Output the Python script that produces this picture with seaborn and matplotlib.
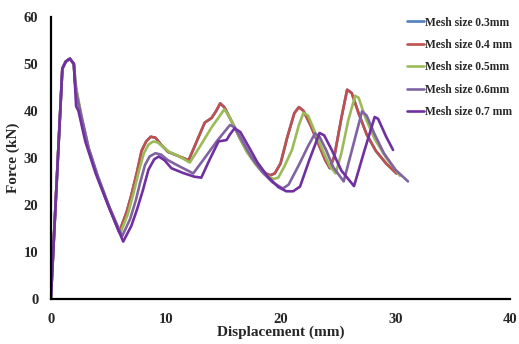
import matplotlib
matplotlib.use("Agg")
import matplotlib.pyplot as plt
import seaborn as sns
import pandas as pd

labels = ["Mesh size 0.3mm", "Mesh size 0.4 mm", "Mesh size 0.5mm",
          "Mesh size 0.6mm", "Mesh size 0.7 mm"]
colors = ["#4F81BD", "#C0504D", "#9BBB59", "#8064A2", "#7030A0"]

x_04 = [0, 1.0, 1.3, 1.65, 2.0, 2.1, 2.6, 3.2, 4.0, 5.0, 5.95, 6.6, 7.0, 7.5, 7.9, 8.3, 8.7,
        9.1, 9.6, 10.2, 11.0, 12.0, 12.7, 13.4, 14.0, 14.4, 14.75, 15.1, 15.8, 16.5, 17.2,
        18.0, 18.7, 19.1, 19.5, 20.0, 20.6, 21.2, 21.6, 22.0, 22.6, 23.3, 23.9, 24.3, 24.7,
        25.3, 25.8, 26.2, 26.8, 27.5, 28.3, 29.2, 30.1]
y_04 = [0, 49, 50.5, 51.1, 50, 46, 39, 32.5, 26.5, 20, 14.2, 18.5, 22, 27, 31.5, 33.5, 34.5,
        34.3, 32.8, 31.3, 30.5, 29.5, 33.5, 37.5, 38.5, 40, 41.6, 40.8, 37.5, 34, 31,
        28.5, 26.7, 26.3, 26.7, 28.8, 34.5, 39.5, 40.8, 40, 37, 33, 29.5, 27.8, 30.5,
        38.5, 44.5, 43.8, 39.5, 35, 31.5, 28.8, 26.7]

x_03 = x_04
y_03 = y_04

x_05 = [0, 1.0, 1.3, 1.65, 2.0, 2.2, 2.7, 3.3, 4.1, 5.1, 6.05, 6.7, 7.2, 7.7, 8.1, 8.5, 8.9,
        9.3, 9.8, 10.3, 11.2, 12.1, 13.0, 14.0, 15.1, 15.5, 16.2, 17.0, 17.8, 18.6, 19.4,
        19.8, 20.3, 21.0, 21.6, 22.0, 22.4, 23.0, 23.7, 24.3, 24.8, 25.3, 25.9, 26.5, 26.8,
        27.4, 28.2, 29.2, 30.4]
y_05 = [0, 49, 50.5, 51.1, 50, 45, 38.5, 32, 26, 19.5, 14.0, 18, 22.5, 27.5, 31, 32.8, 33.5,
        33.3, 32.3, 31.3, 30.3, 29.0, 32.5, 36.5, 40.3, 39, 35.5, 31.5, 28.7, 26.5, 25.5,
        25.8, 28, 31.7, 37, 39.6, 39, 35.5, 31.5, 28.2, 26.7, 31, 38, 43.2, 42.8,
        38.5, 34, 30, 26.2]

x_06 = [0, 1.0, 1.3, 1.65, 2.0, 2.2, 2.7, 3.3, 4.1, 5.1, 6.2, 6.9, 7.4, 7.8, 8.2, 8.6, 9.1,
        9.6, 10.2, 11.2, 12.4, 13.4, 14.5, 15.6, 16.0, 16.7, 17.5, 18.4, 19.3, 20.2, 20.7,
        21.6, 22.4, 23.0, 23.4, 24.0, 24.6, 25.5, 26.2, 27.1, 27.5, 28.2, 29.0, 30.0, 31.1]
y_06 = [0, 49, 50.5, 51.1, 50, 44, 38.5, 32, 26, 19.5, 13.3, 17, 21, 25, 28.5, 30.3, 31,
        30.7, 29.5, 28.2, 26.7, 30, 33.7, 37, 36.5, 33.5, 30, 27, 24.8, 23.5, 24.3,
        28.5, 32.5, 35.2, 34.5, 31.5, 28, 25.0, 31.5, 39.9, 39, 35, 31, 27.5, 25.0]

x_07 = [0, 1.0, 1.3, 1.65, 2.0, 2.2, 2.4, 3.0, 3.9, 5.0, 6.3, 7.0, 7.5, 8.0, 8.5, 9.0, 9.4,
        9.9, 10.5, 11.5, 12.5, 13.1, 13.8, 14.6, 15.3, 15.6, 16.0, 16.5, 17.2, 18.0, 18.9,
        19.8, 20.5, 21.1, 21.7, 22.5, 23.4, 23.8, 24.5, 25.3, 26.4, 27.3, 28.2, 28.5, 29.2,
        29.8]
y_07 = [0, 49, 50.5, 51.1, 50, 41, 40, 33.5, 26.7, 19.8, 12.2, 15.5, 19, 23, 27.5, 29.7, 30.3,
        29.5, 27.8, 26.8, 26.0, 25.8, 29.5, 33.5, 33.8, 35, 36.3, 35.5, 32.5, 29, 26,
        23.8, 22.9, 22.9, 23.9, 29.5, 35.3, 34.8, 31.5, 27.3, 24.0, 31.5, 38.7, 38.3, 34.5,
        31.7]

series = [(x_03, y_03), (x_04, y_04), (x_05, y_05), (x_06, y_06), (x_07, y_07)]
frames = []
for lab, (xs, ys) in zip(labels, series):
    frames.append(pd.DataFrame({"Displacement": xs, "Force": ys, "Mesh": lab}))
df = pd.concat(frames, ignore_index=True)

sns.set_style("white")
plt.rcParams["font.family"] = ["Liberation Serif", "DejaVu Serif"]

fig = plt.figure(figsize=(5.19, 3.44), dpi=100)
ax = fig.add_axes([0.098, 0.131, 0.885, 0.82])

sns.lineplot(data=df, x="Displacement", y="Force", hue="Mesh", hue_order=labels,
             palette=colors, estimator=None, sort=False, linewidth=1.9, ax=ax,
             legend=False)

ax.set_xlim(0, 40)
ax.set_ylim(0, 60)
ax.set_xticks([0, 10, 20, 30, 40])
ax.set_yticks([0, 10, 20, 30, 40, 50, 60])
for s in ["top", "right"]:
    ax.spines[s].set_visible(False)
for s in ["left", "bottom"]:
    ax.spines[s].set_color("black")
    ax.spines[s].set_linewidth(1.6)
ax.tick_params(axis="x", length=0, pad=10, labelsize=10.5)
ax.tick_params(axis="y", length=0, pad=9, labelsize=10.5)
for t in ax.get_xticklabels() + ax.get_yticklabels():
    t.set_fontweight("bold")
ax.set_xlabel("Displacement (mm)", fontsize=11, fontweight="bold", labelpad=0)
ax.set_ylabel("Force (kN)", fontsize=11, fontweight="bold", labelpad=3)

handles = [plt.Line2D([], [], color=c, lw=1.9) for c in colors]
fig.legend(handles, labels, loc="upper left", bbox_to_anchor=(0.785, 0.952),
           frameon=False, prop={"family": "Liberation Serif", "weight": "bold", "size": 8.3},
           handlelength=1.4, handletextpad=0.15, labelspacing=0.9, borderpad=0,
           borderaxespad=0)

fig.savefig("out.png", dpi=100)
